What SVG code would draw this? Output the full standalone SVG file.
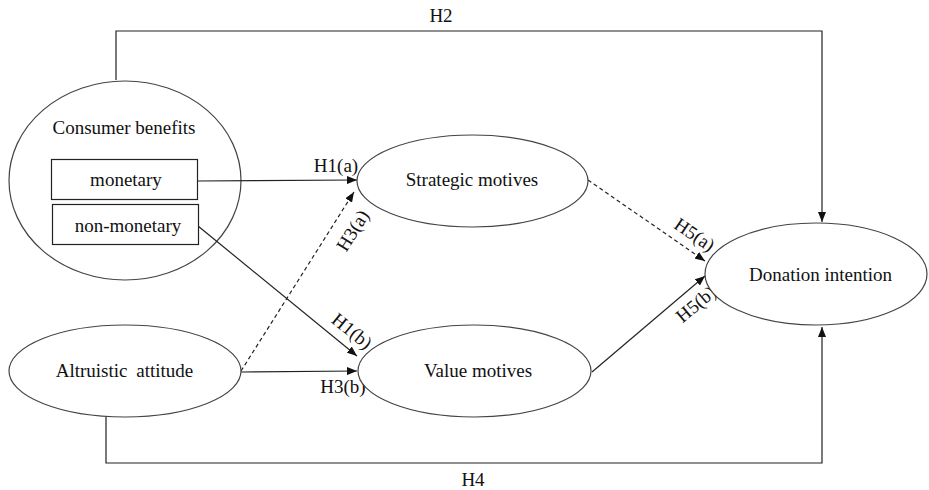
<svg xmlns="http://www.w3.org/2000/svg" width="929" height="490" viewBox="0 0 929 490">
<style>
text{font-family:"Liberation Serif","Times New Roman",serif;font-size:19px;fill:#111;text-anchor:middle}
.node{fill:#fff;stroke:#444;stroke-width:1.2}
.group{fill:none;stroke:#444;stroke-width:1.2}
.box{fill:#fff;stroke:#222;stroke-width:1.2}
.edge{fill:none;stroke:#222;stroke-width:1.2}
.dash{stroke-dasharray:4 3}
</style>
<defs>
<marker id="arr" markerUnits="userSpaceOnUse" markerWidth="10" markerHeight="8" refX="10" refY="4" orient="auto">
<path d="M0,0 L10,4 L0,8 z" fill="#111"/>
</marker>
</defs>
<rect width="929" height="490" fill="#fff"/>
<g id="consumer-benefits">
<ellipse class="group" cx="125" cy="180.5" rx="116" ry="99.5"/>
<text x="124" y="134">Consumer benefits</text>
</g>
<g id="connectors">
<path class="edge" d="M116,80 V31 H822 V222" marker-end="url(#arr)"/>
<path class="edge" d="M106,417 V463 H822 V327" marker-end="url(#arr)"/>
<path class="edge" d="M197,181 L357,180" marker-end="url(#arr)"/>
<path class="edge dash" d="M241,371 L354,192" marker-end="url(#arr)"/>
<path class="edge" d="M198,226 L357,356" marker-end="url(#arr)"/>
<path class="edge" d="M241,372 L357,371" marker-end="url(#arr)"/>
<path class="edge dash" d="M588,180 L705,261" marker-end="url(#arr)"/>
<path class="edge" d="M592,372 L705,276" marker-end="url(#arr)"/>
<text x="441" y="22">H2</text>
<text x="473" y="486">H4</text>
<text x="336" y="172">H1(a)</text>
<text x="343" y="393">H3(b)</text>
<text transform="translate(358,234) rotate(-58)">H3(a)</text>
<text transform="translate(348,336) rotate(39)">H1(b)</text>
<text transform="translate(691,240) rotate(34)">H5(a)</text>
<text transform="translate(700,309) rotate(-40)">H5(b)</text>
</g>
<g id="monetary">
<rect class="box" x="51.5" y="159.5" width="146" height="40"/>
<text x="126" y="186">monetary</text>
</g>
<g id="non-monetary">
<rect class="box" x="52.5" y="204.5" width="146" height="40"/>
<text x="128" y="232">non-monetary</text>
</g>
<g id="altruistic-attitude">
<ellipse class="node" cx="125" cy="371" rx="116" ry="46"/>
<text x="124.5" y="377" word-spacing="4">Altruistic attitude</text>
</g>
<g id="strategic-motives">
<ellipse class="node" cx="472.5" cy="181" rx="115.5" ry="46"/>
<text x="472" y="186">Strategic motives</text>
</g>
<g id="value-motives">
<ellipse class="node" cx="474.5" cy="371" rx="116.5" ry="46"/>
<text x="478" y="377">Value motives</text>
</g>
<g id="donation-intention">
<ellipse class="node" cx="816" cy="274" rx="111" ry="51"/>
<text x="820.5" y="281">Donation intention</text>
</g>
</svg>
